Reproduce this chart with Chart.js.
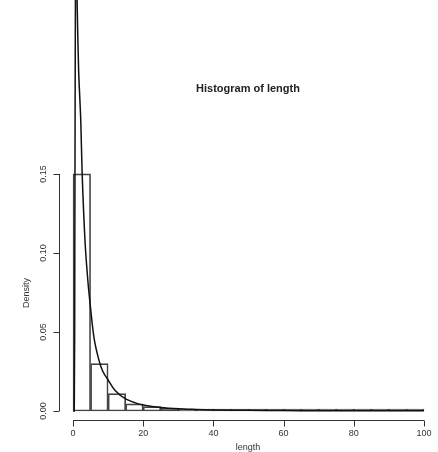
<!DOCTYPE html>
<html>
<head>
<meta charset="utf-8">
<script src="https://cdn.jsdelivr.net/npm/chart.js@4"></script>
<style>
  html, body { margin: 0; padding: 0; background: #fff; }
  #wrap { width: 438px; height: 452px; }
</style>
</head>
<body>
<div id="wrap"><canvas id="histChart" width="438" height="452"></canvas></div>
<script>
// histogram bins (width 5) and their densities
const binMids = [2.5, 7.5, 12.5, 17.5, 22.5, 27.5, 32.5, 37.5, 42.5, 47.5,
                 52.5, 57.5, 62.5, 67.5, 72.5, 77.5, 82.5, 87.5, 92.5, 97.5];
const binDensity = [0.150, 0.030, 0.011, 0.0045, 0.0028, 0.0018, 0.0010, 0.0008, 0.0006, 0.0006,
                    0.0002, 0.0002, 0.0002, 0.0001, 0.0001, 0.0001, 0.0001, 0.0001, 0.0001, 0.0001];

// fitted density curve
const curveX = [0, 0.35, 0.5, 0.6, 0.7, 0.85, 1.0, 1.2, 1.6, 2.2, 2.6, 3.4, 4.2, 5, 6, 7.4, 8.5,
                10, 12, 15, 18, 20, 25, 30, 35, 40, 50, 60, 70, 80, 90, 100];
const curveY = [0, 0, 0.1, 0.2, 0.27, 0.3, 0.285, 0.255, 0.215, 0.184, 0.15, 0.108, 0.083, 0.065,
                0.046, 0.032, 0.025, 0.0196, 0.013, 0.0076, 0.005, 0.0038, 0.0022, 0.0014, 0.001,
                0.0007, 0.0004, 0.00025, 0.00017, 0.00012, 0.0001, 0.00008];

const xTicks = [0, 20, 40, 60, 80, 100];
const yTicks = [0, 0.05, 0.10, 0.15];
const yTickLabels = ['0.00', '0.05', '0.10', '0.15'];

const titleText = 'Histogram of length';
const xTitle = 'length';
const yTitle = 'Density';

// R style axes, drawn from the chart's own scales
const rAxes = {
    id: 'rAxes',
    afterDraw(chart) {
        const ctx = chart.ctx;
        const xs = chart.scales.x;
        const ys = chart.scales.y;
        const axisY = 420.5;
        const axisX = 59.5;
        ctx.save();
        ctx.strokeStyle = '#333';
        ctx.lineWidth = 1;
        ctx.fillStyle = '#333';

        // x axis
        ctx.beginPath();
        ctx.moveTo(xs.getPixelForValue(xTicks[0]), axisY);
        ctx.lineTo(xs.getPixelForValue(xTicks[xTicks.length - 1]), axisY);
        xTicks.forEach(function(t) {
            const px = Math.round(xs.getPixelForValue(t)) + 0.5;
            ctx.moveTo(px, axisY);
            ctx.lineTo(px, axisY + 6);
        });
        ctx.stroke();
        ctx.font = '9px "Liberation Sans", Arial, sans-serif';
        ctx.textAlign = 'center';
        ctx.textBaseline = 'middle';
        xTicks.forEach(function(t) {
            ctx.fillText(String(t), xs.getPixelForValue(t), 434);
        });

        // y axis
        ctx.beginPath();
        ctx.moveTo(axisX, ys.getPixelForValue(yTicks[0]));
        ctx.lineTo(axisX, ys.getPixelForValue(yTicks[yTicks.length - 1]));
        yTicks.forEach(function(t) {
            const py = Math.round(ys.getPixelForValue(t)) + 0.5;
            ctx.moveTo(axisX, py);
            ctx.lineTo(axisX - 6, py);
        });
        ctx.stroke();
        ctx.font = '9px "Liberation Sans Narrow", "Liberation Sans", Arial, sans-serif';
        yTicks.forEach(function(t, i) {
            ctx.save();
            ctx.translate(44, ys.getPixelForValue(t));
            ctx.rotate(-Math.PI / 2);
            ctx.fillText(yTickLabels[i], 0, 0);
            ctx.restore();
        });

        // axis titles
        ctx.font = '9px "Liberation Sans", Arial, sans-serif';
        ctx.fillText(xTitle, 248, 448);
        ctx.save();
        ctx.translate(27, 293);
        ctx.rotate(-Math.PI / 2);
        ctx.fillText(yTitle, 0, 0);
        ctx.restore();

        // main title
        ctx.fillStyle = '#222';
        ctx.font = 'bold 11px "Liberation Sans", Arial, sans-serif';
        ctx.fillText(titleText, 248, 89);
        ctx.restore();
    }
};

const histData = {
    datasets: [{
        type: 'line',
        label: 'density',
        data: curveX.map(function(x, i) { return { x: x, y: curveY[i] }; }),
        borderColor: '#111',
        borderWidth: 1.5,
        pointRadius: 0,
        tension: 0.3,
        fill: false,
        order: 0
    }, {
        type: 'bar',
        label: 'length',
        data: binMids.map(function(x, i) { return { x: x, y: binDensity[i] }; }),
        backgroundColor: 'rgba(255,255,255,0)',
        borderColor: '#444',
        borderWidth: 1,
        borderSkipped: false,
        minBarLength: 2,
        barPercentage: 1,
        categoryPercentage: 1,
        order: 1
    }]
};

new Chart(document.getElementById('histChart'), {
    type: 'bar',
    data: histData,
    options: {
        responsive: false,
        animation: false,
        devicePixelRatio: 1,
        layout: { padding: { left: 59, right: 0, top: 0, bottom: 32 } },
        plugins: {
            legend: { display: false },
            tooltip: { enabled: false },
            title: { display: false }
        },
        scales: {
            x: { type: 'linear', min: -4, max: 104, offset: false, display: false },
            y: { type: 'linear', min: -0.0057, max: 0.26, display: false }
        }
    },
    plugins: [rAxes]
});
</script>
</body>
</html>
